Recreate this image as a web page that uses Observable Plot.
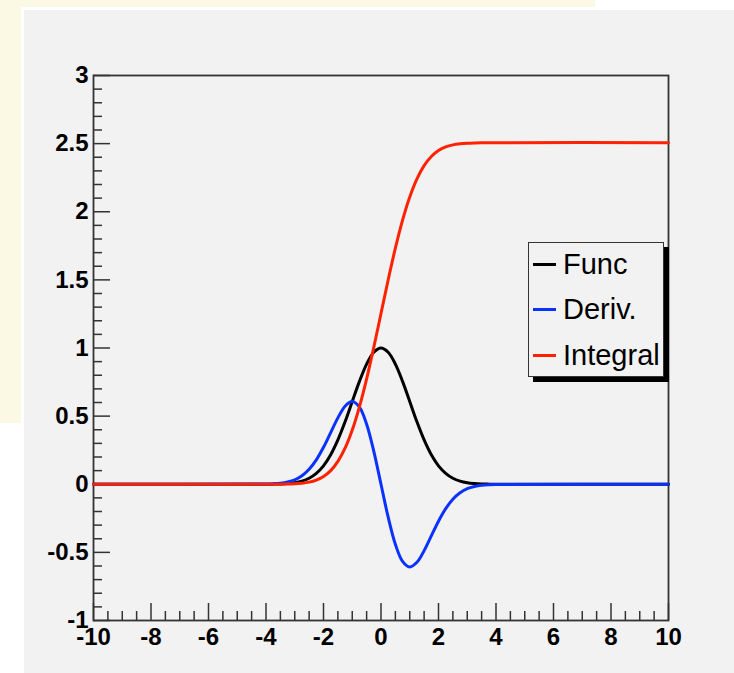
<!DOCTYPE html>
<html>
<head>
<meta charset="utf-8">
<script src="https://cdn.jsdelivr.net/npm/d3@7"></script>
<script src="https://cdn.jsdelivr.net/npm/@observablehq/plot@0.6"></script>
<style>
  html, body { margin: 0; padding: 0; background: #ffffff; }
  #page { position: relative; width: 734px; height: 673px; overflow: hidden; background: #ffffff; }
  #yellow { position: absolute; left: 0; top: 0; width: 595px; height: 423px; background: #fbf9e4; }
  #white { position: absolute; left: 21px; top: 7px; right: 0; bottom: 0; background: #ffffff; }
  #pad { position: absolute; left: 24px; top: 10px; right: 0; bottom: 0; background: #f2f2f2; }
  #chart { position: absolute; left: 0; top: 0; }
  #legend { position: absolute; left: 528px; top: 242px; width: 134px; height: 133px;
    border: 1px solid #333; background: #f2f2f2; box-shadow: 5px 5px 0 #000;
    font-family: "Liberation Sans", Arial, sans-serif; font-size: 29px; color: #000; }
  .entry { position: absolute; left: 0; height: 30px; display: flex; align-items: center; white-space: nowrap; }
  .sw { width: 23px; height: 3px; margin-left: 4px; margin-right: 7px; flex: none; }
</style>
</head>
<body>
<div id="page">
  <div id="yellow"></div>
  <div id="white"></div>
  <div id="pad"></div>
  <div id="chart"></div>
  <div id="legend"></div>
</div>
<script>
// ---- data ----
const xs = [-10, -4, -3.75, -3.5, -3.25, -3, -2.75, -2.5, -2.25, -2, -1.75, -1.5, -1.25, -1, -0.75, -0.5, -0.25,
  0, 0.25, 0.5, 0.75, 1, 1.25, 1.5, 1.75, 2, 2.25, 2.5, 2.75, 3, 3.25, 3.5, 3.75, 4, 10];
const func = [0, 0.0003, 0.0009, 0.0022, 0.0051, 0.011, 0.023, 0.044, 0.080, 0.135, 0.216, 0.325, 0.458, 0.607, 0.755, 0.882, 0.969,
  1.0, 0.969, 0.882, 0.755, 0.607, 0.458, 0.325, 0.216, 0.135, 0.080, 0.044, 0.023, 0.011, 0.0051, 0.0022, 0.0009, 0.0003, 0];
const deriv = [0, 0.0013, 0.0033, 0.0077, 0.017, 0.033, 0.063, 0.110, 0.179, 0.271, 0.379, 0.487, 0.573, 0.607, 0.566, 0.441, 0.242,
  0, -0.242, -0.441, -0.566, -0.607, -0.573, -0.487, -0.379, -0.271, -0.179, -0.110, -0.063, -0.033, -0.017, -0.0077, -0.0033, -0.0013, 0];
const integral = [0, 0.0001, 0.0002, 0.0006, 0.0015, 0.0034, 0.0075, 0.0156, 0.031, 0.057, 0.100, 0.168, 0.265, 0.398, 0.568, 0.773, 1.006,
  1.253, 1.501, 1.733, 1.939, 2.109, 2.242, 2.339, 2.406, 2.450, 2.476, 2.491, 2.499, 2.503, 2.505, 2.506, 2.506, 2.507, 2.507];

const seriesNames = ["Func", "Deriv.", "Integral"];
const seriesColors = ["#000000", "#0a32ff", "#ff2200"];
const seriesValues = [func, deriv, integral];

const xTicks = [-10, -8, -6, -4, -2, 0, 2, 4, 6, 8, 10];
const xTickLabels = ["-10", "-8", "-6", "-4", "-2", "0", "2", "4", "6", "8", "10"];
const yTicks = [-1, -0.5, 0, 0.5, 1, 1.5, 2, 2.5, 3];
const yTickLabels = ["-1", "-0.5", "0", "0.5", "1", "1.5", "2", "2.5", "3"];

// minor tick positions
const xMinor = d3.range(-10, 10.001, 0.5).map(v => +v.toFixed(2)).filter(v => !xTicks.includes(v));
const yMinor = d3.range(-1, 3.001, 0.1).map(v => +v.toFixed(2)).filter(v => !yTicks.includes(v));

const tables = seriesValues.map(vals => xs.map((x, i) => ({x, y: vals[i]})));

const chart = Plot.plot({
  width: 734,
  height: 673,
  marginLeft: 93,
  marginRight: 66,
  marginTop: 75,
  marginBottom: 53,
  style: {background: "transparent", fontFamily: "'Liberation Sans', Arial, sans-serif", fontSize: "24px", fontWeight: "bold", color: "#000"},
  x: {domain: [-10, 10]},
  y: {domain: [-1, 3]},
  marks: [
    // minor ticks (inside the frame)
    Plot.axisX(xMinor, {anchor: "bottom", tickSize: 9, dy: -9, tickFormat: () => "", label: null, stroke: "#333", strokeWidth: 1.5}),
    Plot.axisY(yMinor, {anchor: "left", tickSize: 9, dx: 9, tickFormat: () => "", label: null, stroke: "#333", strokeWidth: 1.5}),
    // major ticks
    Plot.axisX(xTicks, {anchor: "bottom", tickSize: 17, dy: -17, tickFormat: () => "", label: null, stroke: "#333", strokeWidth: 1.5}),
    Plot.axisY(yTicks, {anchor: "left", tickSize: 17, dx: 17, tickFormat: () => "", label: null, stroke: "#333", strokeWidth: 1.5}),
    // labels
    Plot.axisX(xTicks, {anchor: "bottom", tickSize: 0, tickPadding: 7, tickFormat: d => xTickLabels[xTicks.indexOf(d)], label: null, fontSize: 24, fontWeight: "bold", fill: "#000"}),
    Plot.axisY(yTicks, {anchor: "left", tickSize: 0, tickPadding: 5, tickFormat: d => yTickLabels[yTicks.indexOf(d)], label: null, fontSize: 24, fontWeight: "bold", fill: "#000"}),
    Plot.frame({stroke: "#333", strokeWidth: 1.8}),
    ...tables.map((t, k) => Plot.line(t, {x: "x", y: "y", stroke: seriesColors[k], strokeWidth: 3, curve: "catmull-rom"}))
  ]
});
document.getElementById("chart").appendChild(chart);

// legend
const legend = document.getElementById("legend");
seriesNames.forEach((name, k) => {
  const e = document.createElement("div");
  e.className = "entry";
  e.style.top = (6 + k * 45.5) + "px";
  const sw = document.createElement("div");
  sw.className = "sw";
  sw.style.background = seriesColors[k];
  const t = document.createElement("span");
  t.textContent = name;
  e.appendChild(sw); e.appendChild(t);
  legend.appendChild(e);
});
</script>
</body>
</html>
